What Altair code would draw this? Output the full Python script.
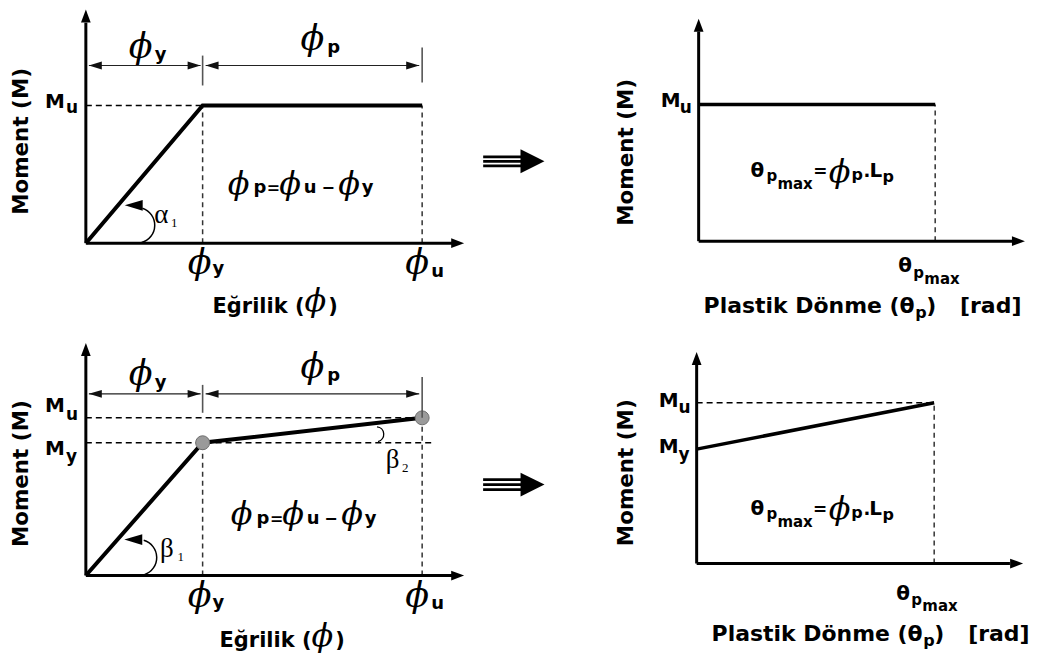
import altair as alt
import pandas as pd

# ---------------- chart values (schematic units) ----------------
phi_y = 1.0          # yield curvature
phi_u = 2.88         # ultimate curvature
M_u = 1.0            # ultimate moment
M_y_curv = 0.842     # yield moment (moment-curvature, bilinear)
theta_pmax = 1.0     # max plastic rotation
M_y_rot = 0.712      # yield moment (moment-rotation, hardening)

curv_top_phi = [0.0, phi_y, phi_u]
curv_top_M = [0.0, M_u, M_u]
curv_bot_phi = [0.0, phi_y, phi_u]
curv_bot_M = [0.0, M_y_curv, M_u]
rot_top_theta = [0.0, theta_pmax]
rot_top_M = [M_u, M_u]
rot_bot_theta = [0.0, theta_pmax]
rot_bot_M = [M_y_rot, M_u]

# ---------------- styling helpers ----------------
SANS = "DejaVu Sans"
PHI_FONT = "DejaVu Serif"
GREEK = "Liberation Serif"
PHI = "\u03d5"

HEAD_UP = "M0,-1L-0.75,1L0.75,1Z"
HEAD_RIGHT = "M1,0L-1,-0.75L-1,0.75Z"
DIM_LEFT = "M-1,0L1,-0.6L1,0.6Z"
DIM_RIGHT = "M1,0L-1,-0.6L-1,0.6Z"
BIG_RIGHT = "M1,0L-1,-1L-1,1Z"


def sc(lo, hi):
    return alt.Scale(domain=[lo, hi], nice=False, zero=False)


def enc(sx, sy, two=False):
    e = dict(x=alt.X("x:Q", scale=sx, axis=None), y=alt.Y("y:Q", scale=sy, axis=None))
    if two:
        e.update(x2="x2:Q", y2="y2:Q")
    return e


def rules(rows, sx, sy, **mk):
    df = pd.DataFrame(rows, columns=["x", "y", "x2", "y2"])
    return alt.Chart(df).mark_rule(**mk).encode(**enc(sx, sy, True))


def curve(xs, ys, sx, sy, w=4):
    df = pd.DataFrame({"x": xs, "y": ys, "i": list(range(len(xs)))})
    return alt.Chart(df).mark_line(color="black", strokeWidth=w).encode(
        **enc(sx, sy), order="i:Q")


def heads(rows, shape, size, sx, sy, color="black"):
    df = pd.DataFrame(rows, columns=["x", "y"])
    return alt.Chart(df).mark_point(shape=shape, size=size, filled=True,
                                    color=color, opacity=1).encode(**enc(sx, sy))


def arc(x, y, r, t1, t2, sx, sy, w=1.5):
    df = pd.DataFrame({"x": [x], "y": [y]})
    return alt.Chart(df).mark_arc(radius=r + w / 2, radius2=r - w / 2, theta=t1,
                                  theta2=t2, color="black").encode(**enc(sx, sy))


def texts(rows, sx, sy, font, align, baseline, weight="normal", style="normal", angle=0):
    df = pd.DataFrame(rows, columns=["t", "x", "y", "s"])
    return alt.Chart(df).mark_text(font=font, fontWeight=weight, fontStyle=style,
                                   align=align, baseline=baseline, angle=angle,
                                   color="black").encode(
        **enc(sx, sy), text="t:N", size=alt.Size("s:Q", scale=None))


def bold(rows, sx, sy):
    return texts(rows, sx, sy, SANS, "left", "alphabetic", weight="bold")


def phis(rows, sx, sy):
    return texts([(PHI, x, y, s) for x, y, s in rows], sx, sy, PHI_FONT, "center",
                 "middle", style="italic")


def greek(rows, sx, sy):
    return texts(rows, sx, sy, GREEK, "left", "alphabetic")


def ytitle(x, y, sx, sy):
    return texts([("Moment (M)", x, y, 21.5)], sx, sy, SANS, "center", "middle",
                 weight="bold", angle=270)


DASH_H = dict(color="black", strokeWidth=1.5, strokeDash=[6, 4])
DASH_V = dict(color="#333333", strokeWidth=1.5, strokeDash=[5, 4])
DIM = dict(color="#222222", strokeWidth=1.2)
TICK = dict(color="#555555", strokeWidth=1.6)
AXIS = dict(color="black", strokeWidth=3)

# ---------------- panel: moment-curvature (top) ----------------
sx, sy = sc(-0.6667, 3.3675), sc(-0.6304, 1.7029)
tl = alt.layer(
    rules([(0, M_u, phi_y, M_u)], sx, sy, **DASH_H),
    rules([(phi_y, 0, phi_y, M_u), (phi_u, 0, phi_u, M_u)], sx, sy, **DASH_V),
    curve(curv_top_phi, curv_top_M, sx, sy),
    rules([(0, 0, 0, 1.601), (0, 0, 3.154, 0)], sx, sy, **AXIS),
    heads([(0, 1.649)], HEAD_UP, 169, sx, sy),
    heads([(3.184, 0)], HEAD_RIGHT, 169, sx, sy),
    rules([(0.026, 1.290, 0.983, 1.290), (1.026, 1.290, 2.855, 1.290)], sx, sy, **DIM),
    heads([(0.081, 1.290), (1.081, 1.290)], DIM_LEFT, 169, sx, sy, "#111111"),
    heads([(0.927, 1.290), (2.799, 1.290)], DIM_RIGHT, 169, sx, sy, "#111111"),
    rules([(phi_y, 1.145, phi_y, 1.362), (phi_u, 1.167, phi_u, 1.420)], sx, sy, **TICK),
    arc(0.436, 0.130, 18, 0.32, 2.87, sx, sy),
    heads([(0.410, 0.275)], DIM_LEFT, 324, sx, sy),
    bold([("y", 0.590, 1.333, 18), ("p", 2.068, 1.384, 18),
          ("M", -0.350, 0.978, 20), ("u", -0.171, 0.942, 17),
          ("y", 1.085, -0.225, 18), ("u", 2.957, -0.246, 18),
          ("Eğrilik (", 1.085, -0.507, 21), (")", 2.075, -0.507, 21),
          ("p", 1.436, 0.362, 18), ("=", 1.550, 0.362, 16), ("u", 1.866, 0.362, 18),
          ("\u2212", 2.017, 0.362, 16), ("y", 2.362, 0.362, 18)], sx, sy),
    phis([(0.470, 1.424, 35), (1.940, 1.482, 35), (0.974, -0.142, 35),
          (2.838, -0.142, 35), (1.966, -0.422, 32), (1.308, 0.432, 32),
          (1.750, 0.432, 32), (2.255, 0.432, 32)], sx, sy),
    greek([("\u03b1", 0.585, 0.145, 27), ("1", 0.730, 0.118, 13)], sx, sy),
    ytitle(-0.547, 0.739, sx, sy),
).properties(width=472, height=322)

# ---------------- panel: moment-rotation (top) ----------------
sx, sy = sc(-0.9283, 1.3924), sc(-0.6496, 1.7007)
tr = alt.layer(
    rules([(theta_pmax, 0, theta_pmax, M_u)], sx, sy, **DASH_V),
    curve(rot_top_theta, rot_top_M, sx, sy, w=3.5),
    rules([(0, 0, 0, 1.533), (0, 0, 1.325, 0)], sx, sy, **AXIS),
    heads([(0, 1.580)], HEAD_UP, 169, sx, sy),
    heads([(1.352, 0)], HEAD_RIGHT, 169, sx, sy),
    rules([(-0.911, v, -0.751, v) for v in (0.617, 0.584, 0.551)], sx, sy,
          color="black", strokeWidth=2.8),
    heads([(-0.7025, 0.584)], BIG_RIGHT, 576, sx, sy),
    bold([("M", -0.160, 0.978, 20), ("u", -0.080, 0.934, 17),
          ("\u03b8", 0.219, 0.467, 20), ("p", 0.287, 0.438, 15), ("max", 0.333, 0.380, 15),
          ("=", 0.484, 0.467, 17), ("p", 0.646, 0.445, 16), (".", 0.697, 0.467, 18),
          ("L", 0.722, 0.467, 20), ("p", 0.777, 0.431, 16),
          ("\u03b8", 0.844, -0.226, 20), ("p", 0.907, -0.270, 15), ("max", 0.954, -0.314, 15),
          ("Plastik Dönme (\u03b8", 0.021, -0.526, 22), ("p", 0.916, -0.562, 16),
          (")", 0.962, -0.526, 22), ("[rad]", 1.105, -0.526, 22)], sx, sy),
    phis([(0.596, 0.508, 32)], sx, sy),
    ytitle(-0.304, 0.650, sx, sy),
).properties(width=550, height=322)

# ---------------- panel: moment-curvature (bottom) ----------------
sx, sy = sc(-0.6667, 3.3675), sc(-0.519, 1.557)
bl = alt.layer(
    rules([(0, M_u, phi_u, M_u), (0, M_y_curv, 2.983, M_y_curv)], sx, sy, **DASH_H),
    rules([(phi_y, 0, phi_y, M_y_curv), (phi_u, 0, phi_u, M_u)], sx, sy, **DASH_V),
    curve(curv_bot_phi, curv_bot_M, sx, sy),
    alt.Chart(pd.DataFrame({"x": [phi_y, phi_u], "y": [M_y_curv, M_u]})).mark_circle(
        size=196, color="#9a9a9a", stroke="#6e6e6e", strokeWidth=1, opacity=1
    ).encode(**enc(sx, sy)),
    rules([(0, 0, 0, 1.392), (0, 0, 3.154, 0)], sx, sy, **AXIS),
    heads([(0, 1.434)], HEAD_UP, 169, sx, sy),
    heads([(3.184, 0)], HEAD_RIGHT, 169, sx, sy),
    rules([(0.026, 1.152, 0.983, 1.152), (1.026, 1.152, 2.855, 1.152)], sx, sy, **DIM),
    heads([(0.081, 1.152), (1.081, 1.152)], DIM_LEFT, 169, sx, sy, "#111111"),
    heads([(0.927, 1.152), (2.799, 1.152)], DIM_RIGHT, 169, sx, sy, "#111111"),
    rules([(phi_y, 1.032, phi_y, 1.209), (phi_u, 1.0, phi_u, 1.259)], sx, sy, **TICK),
    arc(0.453, 0.114, 18, 0.28, 2.82, sx, sy),
    heads([(0.406, 0.228)], DIM_LEFT, 324, sx, sy),
    arc(2.487, 0.896, 7.5, 0.1, 2.9, sx, sy, w=1.3),
    bold([("y", 0.590, 1.190, 18), ("p", 2.068, 1.234, 18),
          ("M", -0.350, 1.038, 20), ("u", -0.171, 0.987, 17),
          ("M", -0.350, 0.766, 20), ("y", -0.171, 0.722, 17),
          ("y", 1.085, -0.203, 18), ("u", 2.957, -0.215, 18),
          ("Eğrilik (", 1.145, -0.456, 21), (")", 2.135, -0.456, 21),
          ("p", 1.461, 0.329, 18), ("=", 1.576, 0.329, 16), ("u", 1.892, 0.329, 18),
          ("\u2212", 2.042, 0.329, 16), ("y", 2.388, 0.329, 18)], sx, sy),
    phis([(0.470, 1.275, 35), (1.940, 1.320, 35), (0.974, -0.130, 35),
          (2.838, -0.130, 35), (2.026, -0.382, 32), (1.333, 0.390, 32),
          (1.776, 0.390, 32), (2.281, 0.390, 32)], sx, sy),
    greek([("\u03b2", 0.636, 0.120, 27), ("1", 0.785, 0.092, 13),
           ("\u03b2", 2.568, 0.684, 27), ("2", 2.708, 0.655, 13)], sx, sy),
    ytitle(-0.547, 0.646, sx, sy),
).properties(width=472, height=328)

# ---------------- panel: moment-rotation (bottom) ----------------
sx, sy = sc(-0.916, 1.395), sc(-0.584, 1.453)
br = alt.layer(
    rules([(0, M_u, theta_pmax, M_u)], sx, sy, **DASH_H),
    rules([(theta_pmax, 0, theta_pmax, M_u)], sx, sy, **DASH_V),
    curve(rot_bot_theta, rot_bot_M, sx, sy, w=3.5),
    rules([(0, 0, 0, 1.236), (0, 0, 1.319, 0)], sx, sy, **AXIS),
    heads([(0, 1.276)], HEAD_UP, 169, sx, sy),
    heads([(1.347, 0)], HEAD_RIGHT, 169, sx, sy),
    rules([(-0.899, v, -0.739, v) for v in (0.522, 0.491, 0.460)], sx, sy,
          color="black", strokeWidth=2.8),
    heads([(-0.691, 0.491)], BIG_RIGHT, 576, sx, sy),
    bold([("M", -0.160, 0.975, 20), ("u", -0.076, 0.938, 17),
          ("M", -0.160, 0.689, 20), ("y", -0.076, 0.646, 17),
          ("\u03b8", 0.227, 0.304, 20), ("p", 0.294, 0.280, 15), ("max", 0.340, 0.230, 15),
          ("=", 0.490, 0.304, 17), ("p", 0.651, 0.286, 16), (".", 0.702, 0.304, 18),
          ("L", 0.727, 0.304, 20), ("p", 0.782, 0.273, 16),
          ("\u03b8", 0.840, -0.224, 20), ("p", 0.903, -0.261, 15), ("max", 0.950, -0.298, 15),
          ("Plastik Dönme (\u03b8", 0.063, -0.484, 22), ("p", 0.954, -0.516, 16),
          (")", 1.0, -0.484, 22), ("[rad]", 1.143, -0.484, 22)], sx, sy),
    phis([(0.602, 0.339, 32)], sx, sy),
    ytitle(-0.294, 0.565, sx, sy),
).properties(width=550, height=328)

chart = alt.concat(
    tl, tr, bl, br, columns=2, spacing=0, bounds="flush",
).properties(padding=0, background="white").configure_view(stroke=None)

chart.save("out.html", embed_options={"renderer": "svg", "actions": False})
